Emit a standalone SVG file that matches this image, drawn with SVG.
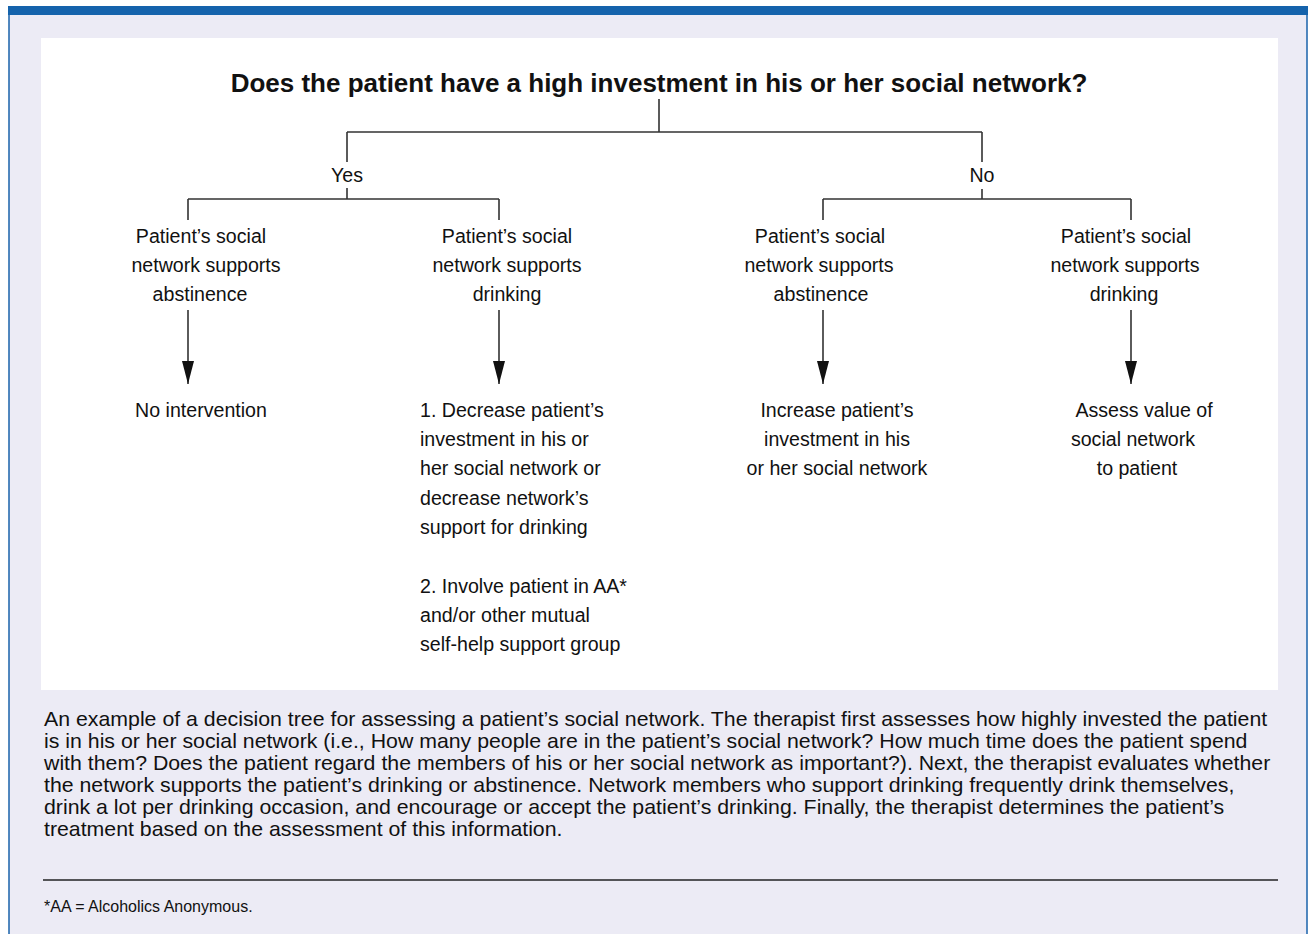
<svg xmlns="http://www.w3.org/2000/svg" width="1316" height="934" viewBox="0 0 1316 934">
<style>
.t{font-family:"Liberation Sans",Arial,sans-serif;font-size:19.6px;fill:#111}
.c{text-anchor:middle}
.title{font-family:"Liberation Sans",Arial,sans-serif;font-size:26px;font-weight:bold;fill:#111;text-anchor:middle}
.cap{font-family:"Liberation Sans",Arial,sans-serif;font-size:20px;fill:#111}
.fn{font-family:"Liberation Sans",Arial,sans-serif;font-size:16px;fill:#111}
.ln{stroke:#333;stroke-width:1.6;fill:none}
</style>
<defs>
<marker id="ah" markerUnits="userSpaceOnUse" viewBox="0 0 23 12" refX="23" refY="6" markerWidth="23" markerHeight="12" orient="auto">
<path d="M0,0 L23,6 L0,12 Z" fill="#111"/>
</marker>
</defs>
<rect x="0" y="0" width="1316" height="934" fill="#ffffff"/>
<rect x="9" y="7" width="1298" height="940" fill="#ECEBF5" stroke="#1A63AB" stroke-width="1.5"/>
<rect x="8" y="6" width="1300" height="9" fill="#1563AC"/>
<rect x="41" y="38" width="1237" height="652" fill="#ffffff"/>

<g id="connectors">
<path class="ln" d="M659,99 V132 M347,132 H982 M347,132 V162 M347,188 V199 M188,199 H499 M188,199 V220 M499,199 V220 M982,132 V162 M982,189 V199 M823,199 H1131 M823,199 V220 M1131,199 V220"/>
<line class="ln" x1="188" y1="310" x2="188" y2="384" marker-end="url(#ah)"/>
<line class="ln" x1="499" y1="310" x2="499" y2="384" marker-end="url(#ah)"/>
<line class="ln" x1="823" y1="310" x2="823" y2="384" marker-end="url(#ah)"/>
<line class="ln" x1="1131" y1="310" x2="1131" y2="384" marker-end="url(#ah)"/>
</g>

<g id="question"><text class="title" x="659" y="92">Does the patient have a high investment in his or her social network?</text></g>
<g id="yes"><text class="t c" x="347" y="182">Yes</text></g>
<g id="no"><text class="t c" x="982" y="182">No</text></g>

<g id="yes-abstinence">
<text class="t c" x="201" y="243">Patient’s social</text>
<text class="t c" x="206" y="272">network supports</text>
<text class="t c" x="200" y="301">abstinence</text>
</g>
<g id="yes-drinking">
<text class="t c" x="507" y="243">Patient’s social</text>
<text class="t c" x="507" y="272">network supports</text>
<text class="t c" x="507" y="301">drinking</text>
</g>
<g id="no-abstinence">
<text class="t c" x="820" y="243">Patient’s social</text>
<text class="t c" x="819" y="272">network supports</text>
<text class="t c" x="821" y="301">abstinence</text>
</g>
<g id="no-drinking">
<text class="t c" x="1126" y="243">Patient’s social</text>
<text class="t c" x="1125" y="272">network supports</text>
<text class="t c" x="1124" y="301">drinking</text>
</g>

<g id="no-intervention"><text class="t c" x="201" y="417">No intervention</text></g>
<g id="decrease">
<text class="t" x="420" y="417">1. Decrease patient’s</text>
<text class="t" x="420" y="446">investment in his or</text>
<text class="t" x="420" y="475">her social network or</text>
<text class="t" x="420" y="505">decrease network’s</text>
<text class="t" x="420" y="534">support for drinking</text>
<text class="t" x="420" y="593">2. Involve patient in AA*</text>
<text class="t" x="420" y="622">and/or other mutual</text>
<text class="t" x="420" y="651">self-help support group</text>
</g>
<g id="increase">
<text class="t c" x="837" y="417">Increase patient’s</text>
<text class="t c" x="837" y="446">investment in his</text>
<text class="t c" x="837" y="475">or her social network</text>
</g>
<g id="assess">
<text class="t c" x="1144" y="417">Assess value of</text>
<text class="t c" x="1133" y="446">social network</text>
<text class="t c" x="1137" y="475">to patient</text>
</g>

<g id="caption" transform="translate(44,0) scale(1.065,1)">
<text class="cap" x="0" y="726">An example of a decision tree for assessing a patient’s social network. The therapist first assesses how highly invested the patient</text>
<text class="cap" x="0" y="748">is in his or her social network (i.e., How many people are in the patient’s social network? How much time does the patient spend</text>
<text class="cap" x="0" y="770">with them? Does the patient regard the members of his or her social network as important?). Next, the therapist evaluates whether</text>
<text class="cap" x="0" y="792">the network supports the patient’s drinking or abstinence. Network members who support drinking frequently drink themselves,</text>
<text class="cap" x="0" y="814">drink a lot per drinking occasion, and encourage or accept the patient’s drinking. Finally, the therapist determines the patient’s</text>
<text class="cap" x="0" y="836">treatment based on the assessment of this information.</text>
</g>
<line x1="43" y1="880" x2="1278" y2="880" stroke="#222" stroke-width="1.5"/>
<g id="footnote"><text class="fn" x="44" y="912">*AA = Alcoholics Anonymous.</text></g>
</svg>
